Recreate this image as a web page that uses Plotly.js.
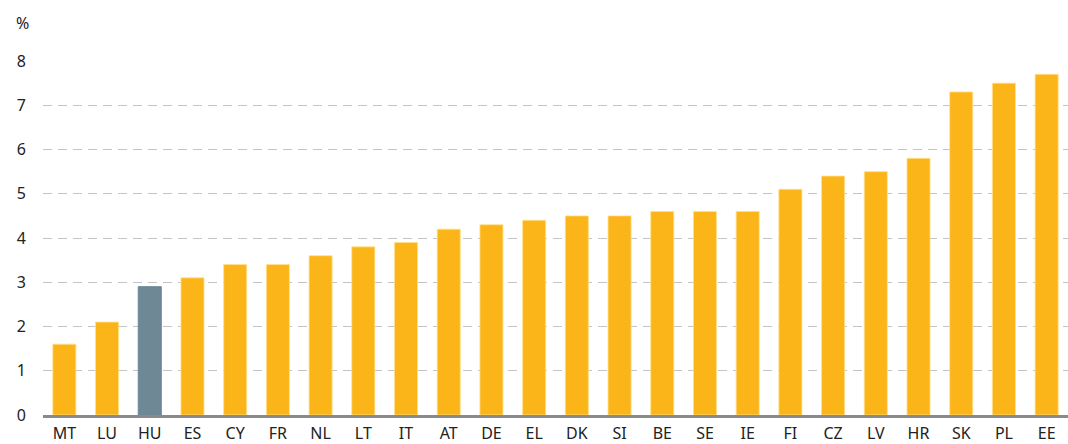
<!DOCTYPE html>
<html><head><meta charset="utf-8">
<script src="https://cdn.plot.ly/plotly-3.0.1.min.js"></script>
<style>html,body{margin:0;padding:0;background:#fff}</style>
</head><body>
<div id="chart" style="width:1068px;height:444px"></div>
<script>
const countries = ["MT","LU","HU","ES","CY","FR","NL","LT","IT","AT","DE","EL","DK","SI","BE","SE","IE","FI","CZ","LV","HR","SK","PL","EE"];
const values = [1.6,2.1,2.9,3.1,3.4,3.4,3.6,3.8,3.9,4.2,4.3,4.4,4.5,4.5,4.6,4.6,4.6,5.1,5.4,5.5,5.8,7.3,7.5,7.7];
const highlight = "HU";
const yTicks = [0,1,2,3,4,5,6,7,8];

const colors = countries.map(c => c === highlight ? "#6E8896" : "#FBB519");
const lineColors = countries.map(c => c === highlight ? "#6E8896" : "rgba(255,225,140,0.8)");

const trace = {
  type: "bar",
  x: countries,
  y: values,
  marker: {color: colors, line: {color: lineColors, width: 1}},
  width: 0.54,
  hoverinfo: "x+y"
};

const font = {family: "Noto Sans, sans-serif", size: 16, color: "#222"};

const layout = {
  width: 1068, height: 444,
  margin: {l: 43, r: 0, t: 61, b: 29},
  paper_bgcolor: "#fff", plot_bgcolor: "#fff",
  font: font,
  showlegend: false,
  xaxis: {
    type: "category",
    tickfont: font,
    showgrid: false,
    zeroline: false,
    showline: true, linecolor: "#8a8a8a", linewidth: 2.5,
    ticks: "", ticklabelstandoff: 2,
    range: [-0.5, countries.length - 0.5]
  },
  yaxis: {
    range: [0, 8],
    tickvals: yTicks,
    ticktext: yTicks.map(String),
    tickfont: font,
    showgrid: true, gridcolor: "#c4c4c4", griddash: "9px,6px", gridwidth: 1,
    zeroline: false,
    showline: false,
    ticks: "",
    ticklabelstandoff: 16
  },
  annotations: [{
    text: "%", xref: "paper", yref: "paper",
    x: -0.02, y: 1.0, yshift: 38, xanchor: "center", yanchor: "middle",
    showarrow: false, font: font
  }]
};

Plotly.newPlot("chart", [trace], layout, {displayModeBar: false, staticPlot: true});
</script>
</body></html>
